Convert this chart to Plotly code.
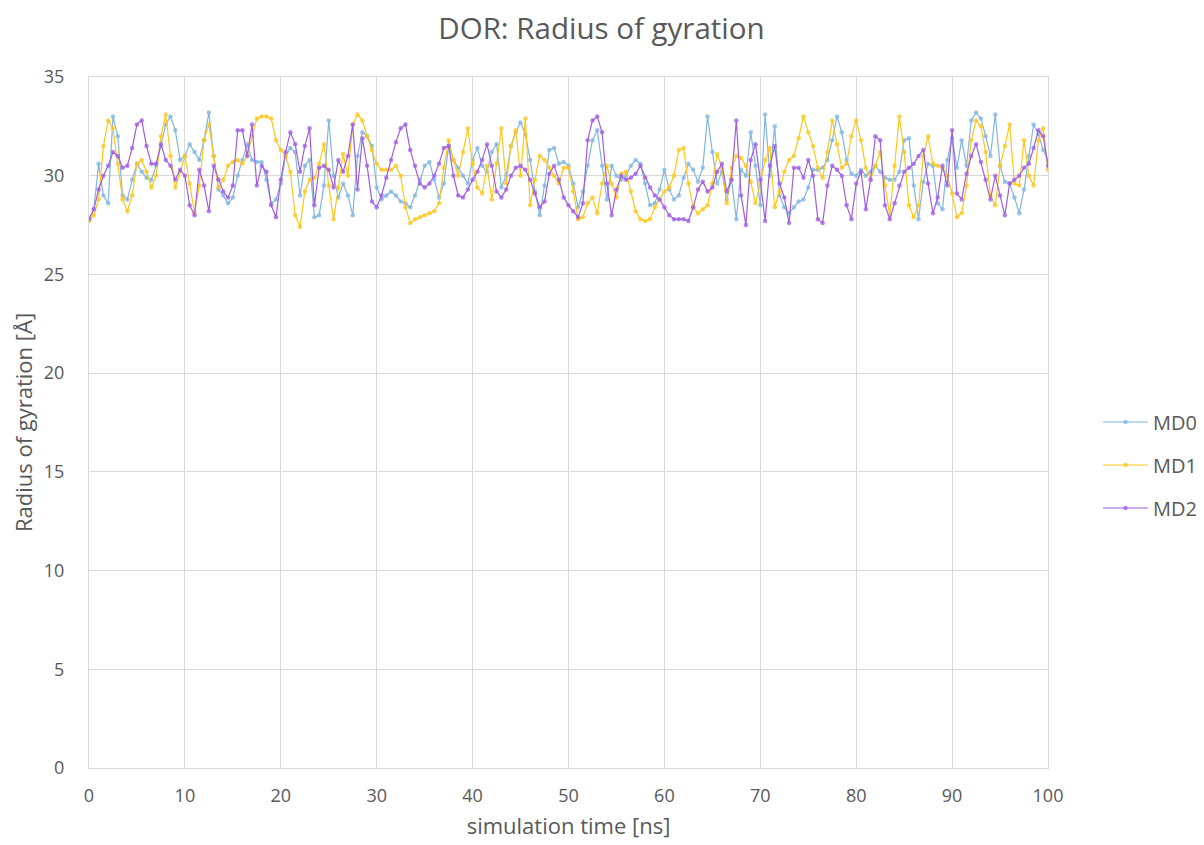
import plotly.graph_objects as go

step_ns = 0.5

md0 = [
    27.8, 28.3, 30.6, 29.0, 28.6, 33.0, 32.0, 29.0, 28.8, 29.8,
    30.6, 30.2, 29.9, 29.8, 30.5, 31.5, 32.6, 33.0, 32.3, 30.8,
    31.0, 31.6, 31.2, 30.8, 31.8, 33.2, 31.0, 29.3, 29.0, 28.6,
    28.9, 30.0, 30.8, 31.6, 30.8, 30.7, 30.7, 29.8, 28.6, 28.8,
    29.6, 31.0, 31.4, 31.2, 29.0, 30.5, 30.8, 27.9, 28.0, 29.5,
    32.8, 30.0, 28.9, 29.6, 29.0, 28.0, 31.0, 32.2, 32.0, 31.5,
    29.4, 28.8, 29.0, 29.2, 29.0, 28.7, 28.6, 28.4, 29.0, 29.8,
    30.5, 30.7, 29.8, 28.9, 29.6, 31.5, 30.8, 30.4, 30.0, 29.6,
    30.8, 31.4, 30.5, 30.2, 31.2, 31.6, 29.4, 30.0, 31.5, 32.2,
    32.7, 32.1, 30.8, 29.2, 28.0, 29.5, 31.3, 31.4, 30.6, 30.7,
    30.5, 29.6, 28.4, 29.2, 30.5, 31.8, 32.3, 30.5, 28.8, 30.5,
    30.0, 29.8, 30.0, 30.5, 30.8, 30.6, 29.6, 28.5, 28.6, 29.3,
    30.3, 29.3, 28.8, 29.0, 29.9, 30.6, 30.3, 29.7, 30.4, 33.0,
    31.2, 29.6, 30.2, 28.8, 29.8, 27.8, 30.3, 30.0, 32.2, 30.5,
    28.5, 33.1, 30.0, 32.5, 29.0, 28.4, 28.1, 28.4, 28.7, 28.8,
    29.4, 30.3, 30.3, 30.4, 30.8, 31.8, 33.0, 32.2, 30.8, 30.1,
    30.0, 30.3, 30.0, 30.2, 30.5, 30.2, 29.9, 29.8, 29.8, 30.2,
    31.8, 31.9, 29.5, 27.8, 29.7, 30.6, 30.5, 28.6, 28.3, 30.8,
    31.9, 30.4, 31.8, 30.5, 32.8, 33.2, 32.9, 32.0, 31.0, 33.1,
    30.5, 29.7, 29.6, 28.9, 28.1, 29.3, 31.0, 32.6, 32.1, 31.3,
    30.8,
]

md1 = [
    27.7, 28.0, 28.8, 31.5, 32.8, 32.4, 30.6, 28.8, 28.2, 29.0,
    30.6, 30.8, 30.2, 29.4, 30.0, 32.0, 33.1, 31.0, 29.4, 30.2,
    31.0, 29.6, 28.1, 29.5, 31.8, 32.6, 31.0, 29.4, 29.8, 30.5,
    30.7, 30.8, 30.6, 31.0, 32.0, 32.9, 33.0, 33.0, 32.9, 31.8,
    31.3, 31.0, 30.2, 28.0, 27.4, 29.2, 29.8, 29.9, 30.6, 31.6,
    29.5, 27.8, 29.4, 31.1, 30.0, 32.6, 33.1, 32.8, 32.0, 31.3,
    30.6, 30.3, 30.3, 30.3, 30.5, 30.0, 28.4, 27.6, 27.8, 27.9,
    28.0, 28.1, 28.2, 28.6, 30.4, 31.8, 30.8, 30.0, 31.2, 32.4,
    30.6, 29.4, 29.1, 30.5, 28.8, 30.6, 32.4, 29.6, 31.5, 32.3,
    30.0, 32.9, 28.5, 29.8, 31.0, 30.8, 30.4, 30.0, 29.6, 30.4,
    30.4, 29.2, 27.8, 27.9, 28.6, 28.9, 28.1, 29.6, 30.5, 29.6,
    28.9, 30.1, 30.2, 29.2, 28.2, 27.8, 27.7, 27.8, 28.4, 28.8,
    29.2, 29.4, 30.0, 31.3, 31.4, 29.6, 28.4, 28.1, 28.3, 28.5,
    29.6, 31.1, 30.4, 28.6, 30.4, 31.0, 30.9, 30.5, 29.7, 28.6,
    29.6, 30.8, 31.4, 28.4, 29.2, 30.2, 30.8, 31.0, 31.9, 33.0,
    32.2, 31.5, 30.4, 29.9, 31.2, 32.8, 31.6, 30.4, 30.6, 32.0,
    32.8, 31.8, 30.4, 29.8, 30.5, 31.2, 29.5, 28.0, 30.5, 33.0,
    31.2, 28.5, 27.9, 28.5, 31.0, 32.0, 30.6, 30.5, 30.4, 30.0,
    29.1, 27.9, 28.1, 29.5, 31.8, 32.8, 32.5, 31.2, 29.0, 28.5,
    30.5, 31.5, 32.6, 29.6, 29.5, 31.8, 30.0, 29.5, 31.8, 32.4,
    30.3,
]

md2 = [
    27.8, 28.3, 29.3, 30.0, 30.5, 31.2, 31.0, 30.4, 30.5, 31.4,
    32.6, 32.8, 31.5, 30.6, 30.6, 31.6, 30.8, 30.5, 29.8, 30.3,
    30.0, 28.5, 28.0, 30.3, 29.5, 28.2, 30.5, 29.8, 29.2, 28.9,
    29.5, 32.3, 32.3, 31.0, 32.6, 29.5, 30.5, 30.2, 28.5, 27.9,
    29.8, 31.2, 32.2, 31.6, 30.2, 31.5, 32.4, 28.5, 30.4, 30.5,
    30.3, 29.4, 30.8, 30.2, 31.0, 32.6, 29.3, 31.9, 30.5, 28.7,
    28.4, 29.0, 29.9, 30.8, 31.7, 32.4, 32.6, 31.3, 30.5, 29.6,
    29.4, 29.6, 30.0, 30.6, 31.4, 31.5, 30.0, 29.0, 28.9, 29.3,
    29.8, 30.2, 30.8, 31.6, 30.5, 29.2, 28.9, 29.3, 30.0, 30.4,
    30.5, 30.3, 29.8, 29.1, 28.4, 28.7, 30.1, 30.5, 29.8, 28.9,
    28.5, 28.2, 27.9, 28.6, 31.8, 32.8, 33.0, 32.2, 29.6, 28.0,
    29.3, 30.0, 29.8, 29.9, 30.1, 30.5, 29.9, 29.4, 29.0, 28.8,
    28.4, 28.0, 27.8, 27.8, 27.8, 27.7, 28.4, 29.3, 29.7, 29.2,
    29.4, 30.2, 30.6, 29.2, 29.8, 32.8, 29.0, 27.5, 30.8, 31.6,
    29.8, 27.7, 30.5, 31.5, 29.6, 28.9, 27.6, 30.4, 30.4, 29.9,
    30.8, 30.0, 27.8, 27.6, 29.5, 30.5, 30.3, 30.0, 28.5, 27.8,
    29.6, 30.2, 28.3, 29.8, 32.0, 31.8, 28.5, 27.8, 28.6, 29.5,
    30.2, 30.4, 30.6, 31.0, 31.3, 29.6, 28.1, 28.9, 30.5, 29.5,
    32.3, 29.1, 28.8, 30.1, 31.0, 31.6, 30.7, 29.8, 28.8, 30.0,
    29.0, 28.0, 29.6, 29.8, 30.0, 30.4, 30.6, 31.4, 32.3, 32.0,
    30.5,
]

series = [
    ("MD0", md0, "#80b6e0"),
    ("MD1", md1, "#ffc61a"),
    ("MD2", md2, "#a05de3"),
]

FONT = "Open Sans, Liberation Sans, sans-serif"
GREY = "#595959"

fig = go.Figure()
for i, (name, vals, col) in enumerate(series):
    t = [k * step_ns for k in range(len(vals))]
    fig.add_trace(go.Scatter(
        x=t, y=vals, name=name, mode="lines+markers",
        line=dict(color=col, width=1.2),
        marker=dict(color=col, size=4.5, opacity=0.75),
        legendgroup=name,
    ))

# page body has a default 8px margin, so the figure is drawn 8px in from the corner
fig.update_layout(
    width=1196, height=837,
    paper_bgcolor="white", plot_bgcolor="white",
    margin=dict(l=81, r=156, t=69, b=77, pad=0, autoexpand=False),
    title=dict(text="DOR: Radius of gyration", x=0.4962, xanchor="center",
               y=0.975, yanchor="middle",
               font=dict(family=FONT, size=29.5, color=GREY)),
    font=dict(family=FONT, size=18, color=GREY),
    legend=dict(xref="container", yref="container",
                x=0.9114, xanchor="left", y=0.454, yanchor="middle",
                tracegroupgap=14, font=dict(size=20, color=GREY),
                itemwidth=45),
    showlegend=True,
)
fig.update_xaxes(
    range=[0, 100], dtick=10, tick0=0, automargin=False,
    showgrid=True, gridcolor="#d9d9d9", gridwidth=1,
    zeroline=False, showline=True, linecolor="#d9d9d9", mirror=True,
    ticks="", ticklabelstandoff=11,
    tickfont=dict(size=18, color=GREY),
    title=dict(text="simulation time [ns]", font=dict(size=22, color=GREY), standoff=13),
)
fig.update_yaxes(
    range=[0, 35], dtick=5, tick0=0, automargin=False,
    showgrid=True, gridcolor="#d9d9d9", gridwidth=1,
    zeroline=False, showline=True, linecolor="#d9d9d9", mirror=True,
    ticks="", ticklabelstandoff=20,
    tickfont=dict(size=18, color=GREY),
    title=dict(text="Radius of gyration [Å]", font=dict(size=22, color=GREY), standoff=6),
)

fig.write_html("out.html")
